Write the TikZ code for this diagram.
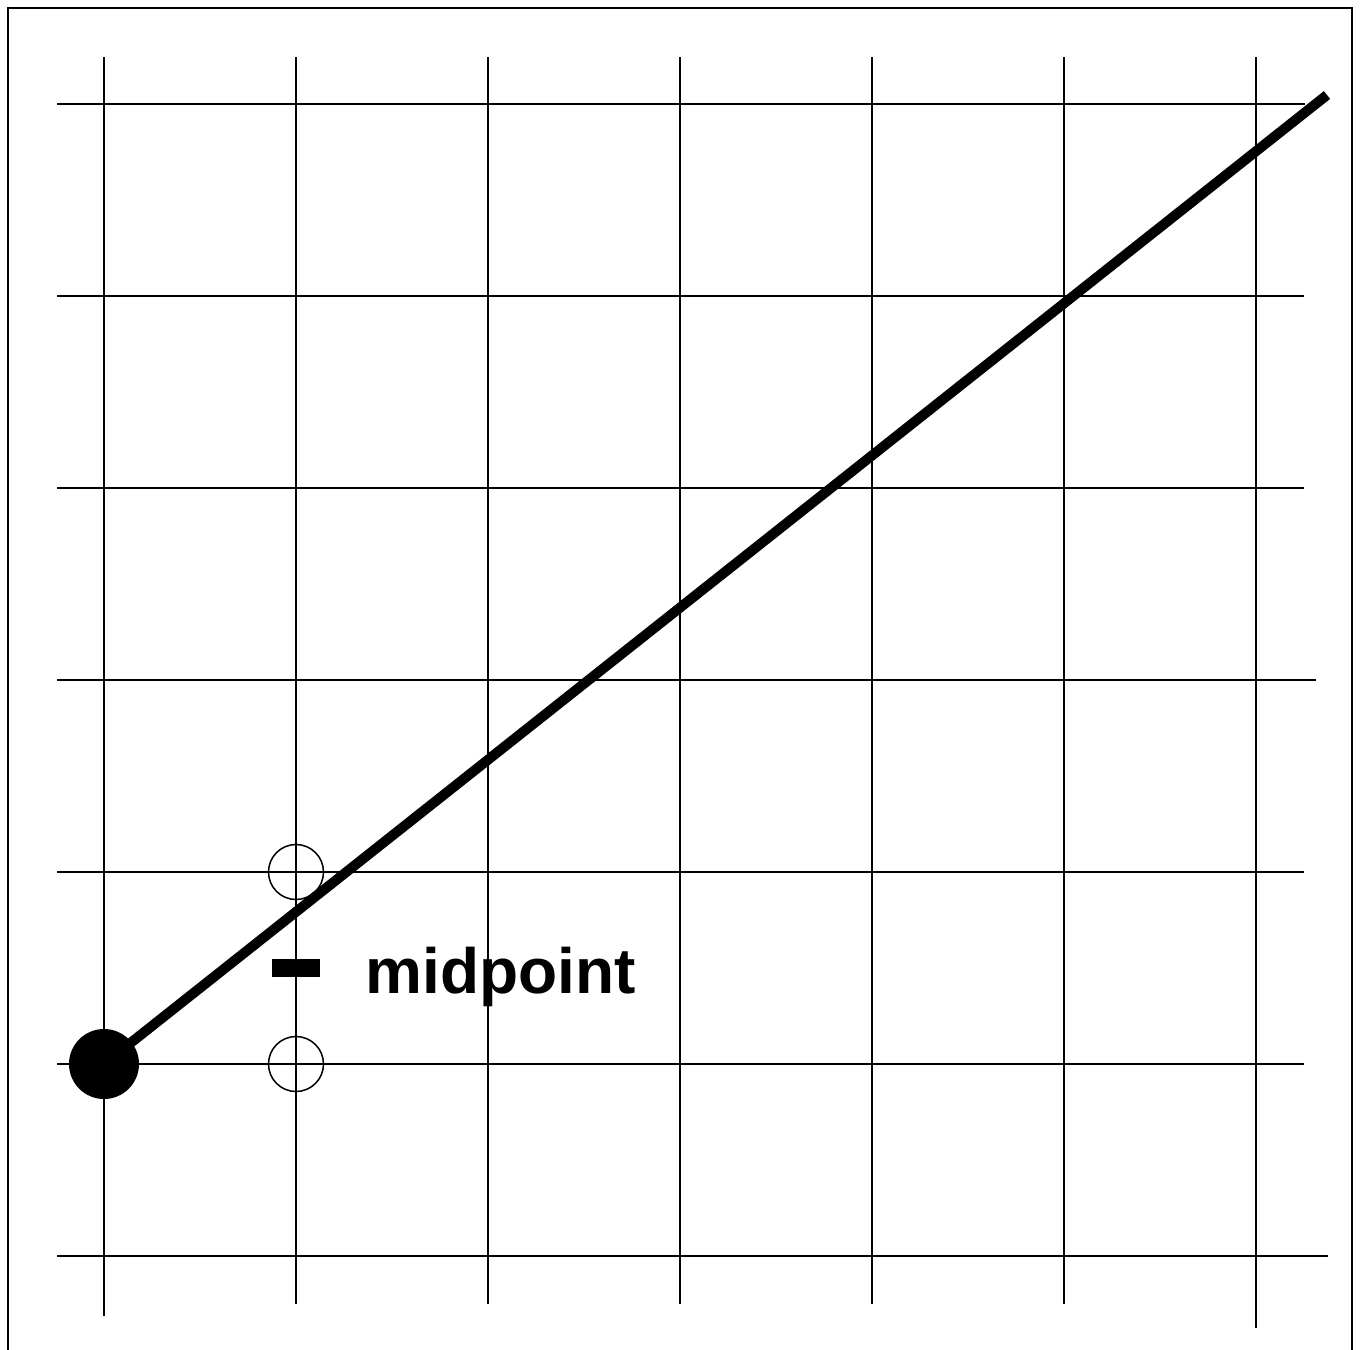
\documentclass[tikz,border=0pt]{standalone}
\usepackage{fontspec}
\setmainfont{Liberation Sans}
\begin{document}
\begin{tikzpicture}[x=0.5pt,y=-0.5pt,
  gridline/.style={line width=1pt},
  frameline/.style={line width=1.1pt},
  thickline/.style={line width=5pt},
  opencirc/.style={circle,draw,line width=0.75pt,minimum size=27.5pt,inner sep=0pt},
  bigdot/.style={circle,fill=black,minimum size=35pt,inner sep=0pt},
  midmark/.style={rectangle,fill=black,minimum width=24pt,minimum height=9pt,inner sep=0pt},
  lbl/.style={font=\fontsize{32}{38}\selectfont\bfseries,inner sep=0pt,anchor=base west}]
\useasboundingbox (0,0) rectangle (1364,1349);
% frame
\draw[frameline] (8,1380) -- (8,8) -- (1352,8) -- (1352,1380);
% vertical grid lines
\foreach \x/\b in {104/1316,296/1304,488/1304,680/1304,872/1304,1064/1304,1256/1328}
  \draw[gridline] (\x,57) -- (\x,\b);
% horizontal grid lines
\foreach \y/\r in {104/1305,296/1304,488/1304,680/1316,872/1304,1064/1304,1256/1328}
  \draw[gridline] (57,\y) -- (\r,\y);
% markers
\node[bigdot] (start) at (104,1064) {};
\node[opencirc] (upper) at (296,872) {};
\node[opencirc] (lower) at (296,1064) {};
\node[midmark] (mid) at (296,968) {};
\node[lbl] (midlbl) at (365,993) {midpoint};
% thick line
\coordinate (endpt) at (1327,95);
\draw[thickline] (start.center) -- (endpt);
\end{tikzpicture}
\end{document}
